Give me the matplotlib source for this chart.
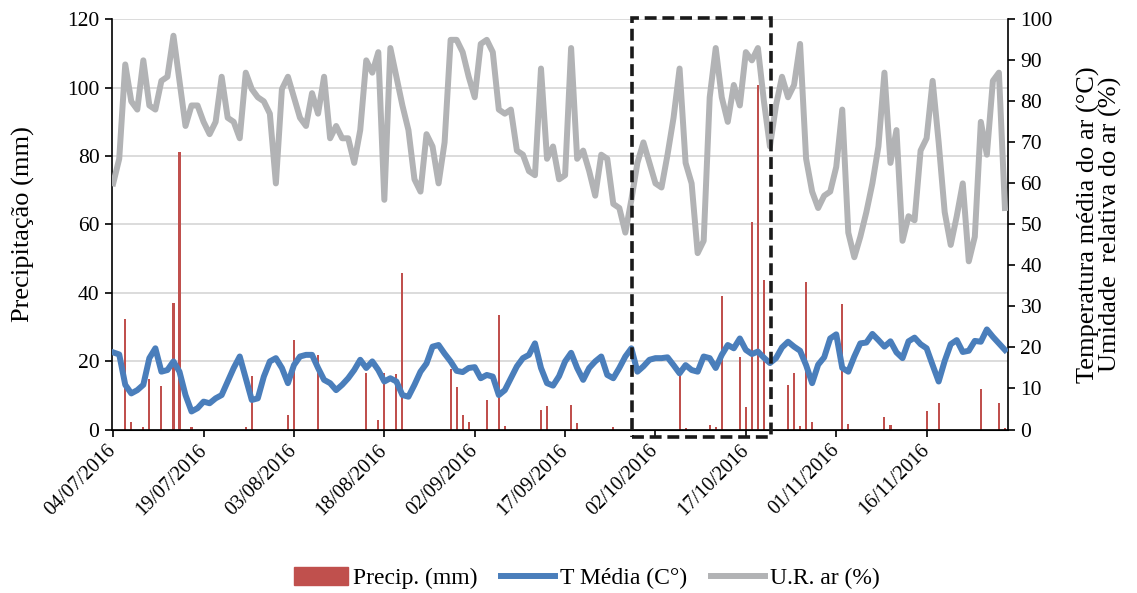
import matplotlib
matplotlib.use('Agg')
import matplotlib.pyplot as plt
import numpy as np
import pandas as pd
from matplotlib.patches import Rectangle, Patch
from matplotlib.lines import Line2D

plt.rcParams['font.family'] = ['Liberation Serif', 'DejaVu Serif']

# daily series, 04/07/2016 onwards
dates = pd.date_range('2016-07-04', periods=149)
tick_labels = list(dates[::15].strftime('%d/%m/%Y'))

# precipitation: day index -> mm
precip_day = [2, 3, 5, 6, 8, 10, 11, 13, 22, 23, 29, 30, 34, 42, 44, 45, 47, 48,
              56, 57, 58, 59, 62, 64, 65, 71, 72, 76, 77, 83, 94, 95, 99, 100, 101,
              104, 105, 106, 107, 108, 112, 113, 114, 115, 116, 121, 122, 128, 129,
              135, 137, 144, 147, 148]
precip_mm = [32.3, 2.3, 0.8, 14.8, 12.8, 36.9, 81.2, 0.8, 0.8, 15.8, 4.2, 26.1, 21.8,
             16.5, 2.8, 16.4, 16.2, 45.8, 17.6, 12.5, 4.2, 2.3, 8.6, 33.5, 0.9, 5.7,
             6.9, 7.2, 1.8, 0.8, 17.4, 0.4, 1.3, 0.6, 39.0, 21.3, 6.6, 60.8, 100.8,
             43.6, 13.1, 16.6, 1.0, 43.3, 2.2, 36.6, 1.5, 3.8, 1.2, 5.4, 7.7, 11.9,
             7.7, 0.4]

t_media = [18.8, 18.3, 10.9, 8.8, 9.6, 10.9, 17.4, 19.8, 14.1, 14.5,
           16.6, 14.1, 8.4, 4.4, 5.2, 6.8, 6.4, 7.6, 8.4, 11.7,
           15.0, 17.8, 12.5, 7.2, 7.6, 12.9, 16.6, 17.4, 15.0, 11.3,
           15.7, 17.8, 18.2, 18.2, 15.0, 12.1, 11.3, 9.6, 10.9, 12.5,
           14.5, 17.0, 15.0, 16.6, 14.5, 11.7, 12.5, 11.7, 8.4, 8.0,
           10.9, 14.1, 16.1, 20.2, 20.6, 18.5, 16.6, 14.3, 14.0, 15.0,
           15.2, 12.5, 13.3, 12.9, 8.4, 9.6, 12.5, 15.4, 17.4, 18.2,
           21.0, 15.0, 11.3, 10.7, 13.0, 16.6, 18.7, 15.0, 12.1, 15.0,
           16.6, 17.8, 13.3, 12.5, 15.0, 17.8, 19.8, 14.1, 15.4, 17.0,
           17.4, 17.4, 17.6, 15.7, 13.7, 15.7, 14.5, 14.1, 17.8, 17.4,
           15.0, 18.2, 20.6, 19.8, 22.2, 19.4, 18.4, 19.0, 17.5, 16.2,
           17.4, 20.0, 21.4, 20.2, 19.2, 15.7, 11.3, 15.8, 17.6, 22.2,
           23.2, 15.0, 14.1, 17.8, 21.0, 21.2, 23.3, 21.8, 20.2, 21.5,
           18.8, 17.4, 21.5, 22.4, 20.8, 19.8, 15.7, 11.7, 16.7, 20.8,
           21.8, 18.9, 19.2, 21.6, 21.4, 24.4, 22.6, 21.0, 19.4]

ur_ar = [60, 66, 89, 80, 78, 90, 79, 78, 85, 86,
         96, 85, 74, 79, 79, 75, 72, 75, 86, 76,
         75, 71, 87, 83, 81, 80, 77, 60, 83, 86,
         81, 76, 74, 82, 77, 86, 71, 74, 71, 71,
         65, 73, 90, 87, 92, 56, 93, 86, 79, 73,
         61, 58, 72, 69, 60, 70, 95, 95, 92, 86,
         81, 94, 95, 92, 78, 77, 78, 68, 67, 63,
         62, 88, 66, 69, 61, 62, 93, 66, 68, 63,
         57, 67, 66, 55, 54, 48, 56, 65, 70, 65,
         60, 59, 67, 76, 88, 65, 60, 43, 46, 81,
         93, 81, 75, 84, 79, 92, 90, 93, 80, 69,
         79, 86, 81, 84, 94, 66, 58, 54, 57, 58,
         64, 78, 48, 42, 47, 53, 60, 69, 87, 65,
         73, 46, 52, 51, 68, 71, 85, 70, 53, 45,
         52, 60, 41, 47, 75, 67, 85, 87, 54]

# highlighted period (dashed box)
box_from, box_to = '2016-09-28', '2016-10-21'

red = '#C0504D'
blue = '#4A7EBB'
grey = '#B2B3B5'

x = np.arange(len(dates))

fig = plt.figure(figsize=(11.37, 5.93), dpi=100)
ax = fig.add_axes([0.0985, 0.2757, 0.788, 0.6917])

ax.bar(precip_day, precip_mm, width=0.35, color=red, zorder=2)
ax.set_ylim(0, 120)
ax.set_yticks(np.arange(0, 121, 20))
ax.set_xlim(-0.2, 148.5)
ax.set_xticks(x[::15])
ax.set_xticklabels(tick_labels, rotation=45, ha='right', va='center',
                   rotation_mode='anchor', fontsize=14.5)
ax.grid(axis='y', color='#D9D9D9', lw=1.3)
ax.set_axisbelow(True)
ax.set_ylabel('Precipitação (mm)', fontsize=19, labelpad=23)
ax.tick_params(axis='both', direction='out', length=5, width=1.2, labelsize=15.5, pad=4)
ax.tick_params(axis='x', pad=8, labelsize=14.5)
for s in ['top', 'right']:
    ax.spines[s].set_visible(False)
for s in ['left', 'bottom']:
    ax.spines[s].set_linewidth(1.2)

ax2 = ax.twinx()
ax2.plot(x, ur_ar, color=grey, lw=4.3, solid_joinstyle='round', zorder=3)
ax2.plot(x, t_media, color=blue, lw=4.3, solid_joinstyle='round', zorder=4)
ax2.set_ylim(0, 100)
ax2.set_yticks(np.arange(0, 101, 10))
ax2.tick_params(axis='y', direction='out', length=5, width=1.2, labelsize=15.5, pad=4)
ax2.spines['top'].set_visible(False)
ax2.spines['left'].set_visible(False)
ax2.spines['right'].set_linewidth(1.2)
ax2.set_ylabel('Temperatura média do ar (°C)\nUmidade  relativa do ar (%)',
               fontsize=19, labelpad=17, linespacing=0.95)

b0 = (pd.Timestamp(box_from) - dates[0]).days + 0.1
b1 = (pd.Timestamp(box_to) - dates[0]).days + 0.1
box = Rectangle((b0, -2.2), b1 - b0, 122.6, transform=ax.transData, fill=False,
                ec='#1A1A1A', lw=2.6, ls=(0, (3.3, 1.6)), clip_on=False, zorder=6)
ax2.add_patch(box)
ax2.set_ylim(0, 100)

handles = [Patch(color=red), Line2D([], [], color=blue, lw=4.3),
           Line2D([], [], color=grey, lw=4.3)]
labels = ['Precip. (mm)', 'T Média (C°)', 'U.R. ar (%)']
fig.legend(handles, labels, loc='center', bbox_to_anchor=(0.516, 0.025),
           ncol=3, frameon=False, fontsize=17, handlelength=2.3,
           handleheight=0.75, columnspacing=1.0, handletextpad=0.2)

fig.savefig('out.png', dpi=100)
